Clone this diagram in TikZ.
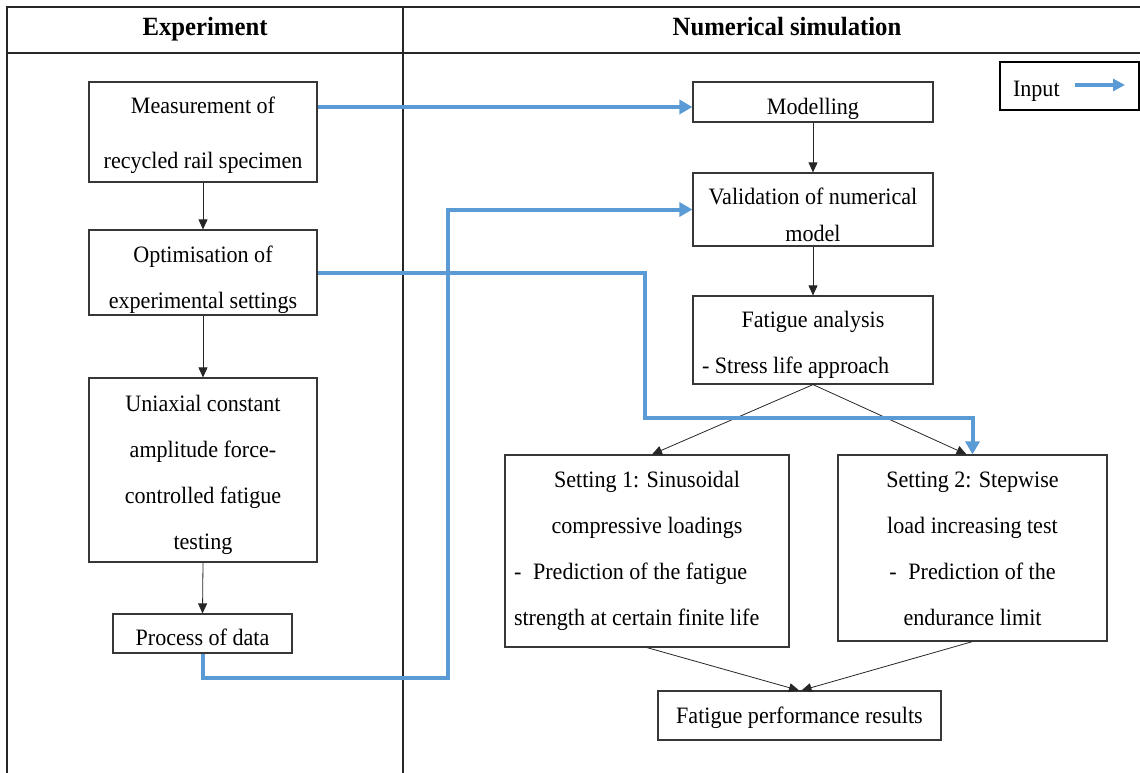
\documentclass[tikz,border=0pt]{standalone}
\usepackage{fontspec}
\setmainfont{Liberation Serif}[FakeStretch=0.94]
\usetikzlibrary{arrows.meta,calc}
\definecolor{blueC}{RGB}{91,155,213}
\definecolor{boxC}{RGB}{55,55,55}
\newcommand\lineTop[1]{\rule{0pt}{#1pt}}
\begin{document}
\begin{tikzpicture}[x=1pt,y=-1pt,
  box/.style={draw=boxC, line width=1.2pt, inner sep=0pt, align=center, font=\fontsize{23.5}{46}\selectfont},
  lane/.style={draw=black!85, line width=1.6pt},
  flow/.style={draw=black!85, line width=0.8pt, -{Triangle[length=10pt,width=9pt]}},
  inp/.style={draw=blueC, line width=4pt, -{Triangle[length=13pt,width=14pt]}},
  hdr/.style={font=\fontsize{26.3}{30}\selectfont\bfseries, inner sep=0pt}]
\useasboundingbox (0,0) rectangle (1140,773);
% swimlane frame
\draw[lane] (7,773) -- (7,7) -- (1140,7);
\draw[lane] (7,53) -- (1140,53);
\draw[lane] (403,7) -- (403,773);
\node[hdr, anchor=base] (hexp) at (205,36) {Experiment};
\node[hdr, anchor=base] (hnum) at (787,36) {Numerical simulation};
% experiment column
\node[box, minimum width=228pt, minimum height=100pt, font=\fontsize{23.5}{55}\selectfont] (meas) at (203,132) {\lineTop{24}Measurement of\\recycled rail specimen};
\node[box, minimum width=228pt, minimum height=85pt] (opt) at (203,272.5) {\lineTop{31}Optimisation of\\experimental settings};
\node[box, minimum width=228pt, minimum height=184pt] (uni) at (203,470) {\lineTop{26}Uniaxial constant\\amplitude force-\\controlled fatigue\\testing};
\node[box, minimum width=179pt, minimum height=39pt] (proc) at (202.5,633.5) {\lineTop{24}Process of data};
% simulation column
\node[box, minimum width=240pt, minimum height=40pt] (mod) at (813,102) {\lineTop{31}Modelling};
\node[box, minimum width=240pt, minimum height=73pt, font=\fontsize{23.5}{37}\selectfont] (val) at (813,209.5) {\lineTop{27}Validation of numerical\\model};
\node[box, minimum width=240pt, minimum height=88pt] (fat) at (813,340) {\lineTop{26}Fatigue analysis\\\makebox[222pt][l]{- Stress life approach}};
\node[box, minimum width=284pt, minimum height=192pt] (s1) at (647,551) {Setting 1: Sinusoidal\\compressive loadings\\\makebox[266pt][l]{-\enspace Prediction of the fatigue}\\\makebox[266pt][l]{strength at certain finite life}};
\node[box, minimum width=269pt, minimum height=186pt] (s2) at (972.5,548) {\lineTop{18}Setting 2: Stepwise\\load increasing test\\-\enspace Prediction of the\\endurance limit};
\node[box, minimum width=283pt, minimum height=49pt] (fpr) at (799.5,715.5) {\lineTop{22}Fatigue performance results};
% legend
\node[box, draw=black, line width=2.2pt, minimum width=139pt, minimum height=48pt] (leg) at (1069.5,86) {\lineTop{26}\makebox[113pt][l]{Input}};
\coordinate (la) at (1075,85);
\coordinate (lb) at (1125,85);
\draw[draw=blueC, line width=3.5pt, -{Triangle[length=12pt,width=12pt]}] (la) -- (lb);
% black flow arrows
\draw[flow] (meas.south) -- (opt.north);
\draw[flow] (opt.south) -- (uni.north);
\draw[flow] (uni.south) -- (proc.north);
\draw[flow] (mod.south) -- (val.north);
\draw[flow] (val.south) -- (fat.north);
\draw[flow] (fat.south) -- ([xshift=5pt]s1.north);
\draw[flow] (fat.south) -- ([xshift=-6pt]s2.north);
\draw[flow] (s1.south) -- ([xshift=-0.5pt]fpr.north);
\draw[flow] (s2.south) -- ([xshift=2pt]fpr.north);
% blue input connectors
\coordinate (m1) at ($(mod.west)+(0,5)$);
\draw[inp] (meas.east |- m1) -- (m1);
\coordinate (b1) at (448,678);
\draw[inp] (proc.south) |- (b1) |- (val.west);
\coordinate (b2) at (645,418);
\draw[inp] (opt.east) -| (b2) -| (s2.north);
\end{tikzpicture}
\end{document}
